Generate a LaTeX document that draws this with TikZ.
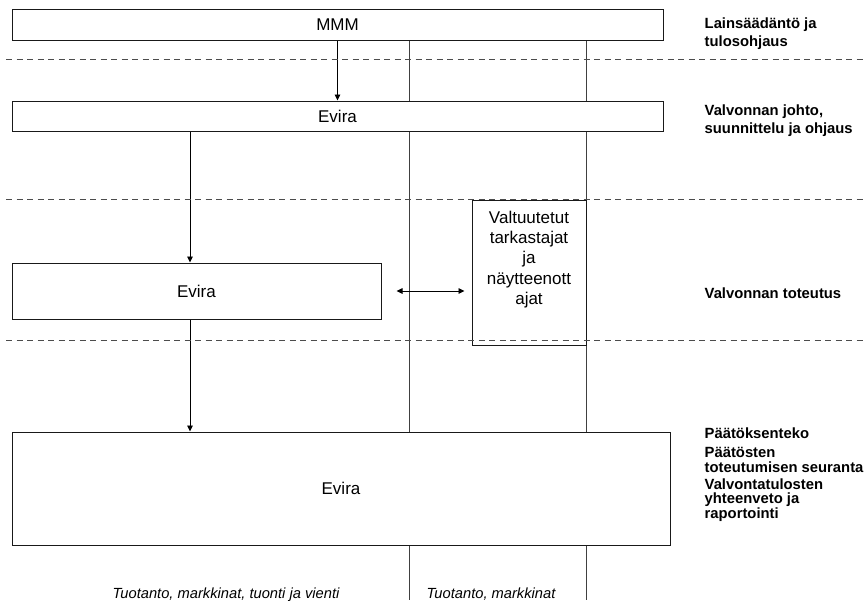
\documentclass[tikz,border=0pt]{standalone}
\usepackage{fontspec}
\setmainfont{Liberation Sans}
\usetikzlibrary{arrows.meta}
\begin{document}
\begin{tikzpicture}[x=1pt,y=-1pt,
  box/.style={draw=black!90,line width=1pt,fill=white,rectangle,inner sep=0pt,
    font=\fontsize{17}{20.4}\selectfont},
  openbox/.style={draw=black!90,line width=1pt,rectangle,inner sep=0pt},
  vline/.style={draw=black!75,line width=0.9pt},
  sep/.style={draw=black!70,line width=0.9pt,dash pattern=on 6pt off 4.5pt},
  arr/.style={draw=black,line width=0.9pt,-{Stealth[length=6pt,width=5.5pt,inset=0pt]}},
  arrtwo/.style={draw=black,line width=0.9pt,{Stealth[length=6pt,width=5.5pt,inset=0pt]}-{Stealth[length=6pt,width=5.5pt,inset=0pt]}},
  lab/.style={anchor=base west,inner sep=0pt,font=\fontsize{14.8}{17}\selectfont\bfseries},
  bot/.style={anchor=base,inner sep=0pt,font=\fontsize{14.7}{17}\selectfont\itshape}]
\useasboundingbox (0,0) rectangle (865,600);

% vertical lane lines
\coordinate (v1) at (409,600);
\coordinate (v2) at (586,600);
\coordinate (v1t) at (409,40);
\coordinate (v2t) at (586,40);
\draw[vline] (v1t) -- (v1);
\draw[vline] (v2t) -- (v2);

% boxes
\node[box,minimum width=651,minimum height=30.5] (mmm) at (337.5,24.75) {MMM};
\node[box,minimum width=651,minimum height=30] (ev2) at (337.5,116) {Evira};
\node[box,minimum width=369,minimum height=56] (ev3) at (196.5,291) {Evira};
\node[box,minimum width=658,minimum height=113] (ev4) at (341,488.5) {Evira};
\node[openbox,minimum width=114,minimum height=145] (valt) at (529,272.5) {};
\node[anchor=north,inner sep=0pt,align=center,font=\fontsize{17}{20.4}\selectfont]
  (valtt) at ([yshift=-11pt]valt.north) {Valtuutetut\\tarkastajat\\ja\\näytteenott\\ajat};

% arrows
\draw[arr] (mmm.south) -- (ev2.north);
\coordinate (c1) at ([xshift=-6.5pt]ev3.north);
\draw[arr] (ev2.south -| c1) -- (c1);
\draw[arr] (ev3.south -| c1) -- (ev4.north -| c1);
\coordinate (d1) at ([xshift=15pt]ev3.east);
\coordinate (d2) at ([xshift=-7pt]valt.west);
\draw[arrtwo] (d1) -- (d2 |- d1);

% dashed separators
\coordinate (s1l) at (6,59.5);   \coordinate (s1r) at (865,59.5);
\coordinate (s2l) at (6,199.5);  \coordinate (s2r) at (865,199.5);
\coordinate (s3l) at (6,340.5);  \coordinate (s3r) at (865,340.5);
\draw[sep] (s1l) -- (s1r);
\draw[sep] (s2l) -- (s2r);
\draw[sep] (s3l) -- (s3r);

% right labels
\node[lab] (l1a) at (704.5,28.5) {Lainsäädäntö ja};
\node[lab] (l1b) at (704.5,46) {tulosohjaus};
\node[lab] (l2a) at (704.5,115.5) {Valvonnan johto,};
\node[lab] (l2b) at (704.5,133) {suunnittelu ja ohjaus};
\node[lab] (l3) at (704.5,298) {Valvonnan toteutus};
\node[lab] (l4) at (704.5,438.5) {Päätöksenteko};
\node[lab] (l5a) at (704.5,457.3) {Päätösten};
\node[lab] (l5b) at (704.5,472.3) {toteutumisen seuranta};
\node[lab] (l6a) at (704.5,489) {Valvontatulosten};
\node[lab] (l6b) at (704.5,503.5) {yhteenveto ja};
\node[lab] (l6c) at (704.5,518) {raportointi};

% bottom labels
\node[bot] (b1) at (226,598.8) {Tuotanto, markkinat, tuonti ja vienti};
\node[bot] (b2) at (491,598.8) {Tuotanto, markkinat};
\end{tikzpicture}
\end{document}
